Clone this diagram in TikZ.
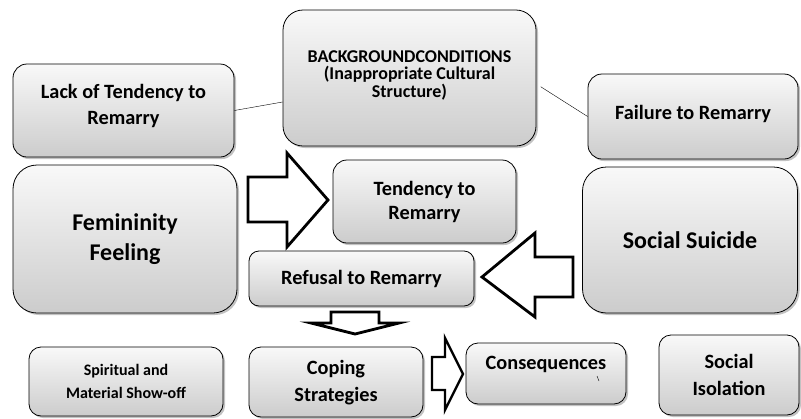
\documentclass[tikz,border=0pt]{standalone}
\usepackage{fontspec}
\setmainfont{Carlito}
\usetikzlibrary{shadows}
\tikzset{
  box/.style={draw, thick, rounded corners=14pt, top color=gray!5, bottom color=gray!40,
    drop shadow={shadow xshift=2pt,shadow yshift=-2pt,fill=gray!80,opacity=.6},
    align=center, inner sep=2pt},
  txt/.style={font=\fontsize{20.3}{26.5}\selectfont\bfseries},
  bigtxt/.style={font=\fontsize{24}{30}\selectfont\bfseries},
  smalltxt/.style={font=\fontsize{16}{23}\selectfont\bfseries},
  blockarrow/.style={draw, line width=2.8pt, fill=white, miter limit=10}
}
\begin{document}
\begin{tikzpicture}[x=1pt,y=-1pt]
\useasboundingbox (0,0) rectangle (801,418);
% boxes
\node[box,txt,minimum width=221pt,minimum height=93pt,text depth=12pt] (lack) at (123.5,110.5) {Lack of Tendency to\\Remarry};
\node[box,font=\fontsize{18}{17.5}\selectfont\bfseries,minimum width=253pt,minimum height=136pt,rounded corners=20pt,text depth=8pt] (back) at (409.5,78) {BACKGROUNDCONDITIONS\\(Inappropriate Cultural\\Structure)};
\node[box,txt,minimum width=210pt,minimum height=85pt,text depth=8pt] (fail) at (693,116.5) {Failure to Remarry};
\node[box,bigtxt,minimum width=224pt,minimum height=148pt,rounded corners=24pt] (fem) at (125,239) {Femininity\\Feeling};
\node[box,font=\fontsize{20.3}{24}\selectfont\bfseries,minimum width=183pt,minimum height=83pt] (tend) at (424.5,201.5) {Tendency to\\Remarry};
\node[box,txt,minimum width=225pt,minimum height=55pt,rounded corners=10pt] (refu) at (361.5,278.5) {Refusal to Remarry};
\node[box,bigtxt,minimum width=215pt,minimum height=146pt,rounded corners=24pt] (suic) at (690,240) {Social Suicide};
\node[box,smalltxt,minimum width=194pt,minimum height=69pt,rounded corners=12pt] (spir) at (126,381.5) {Spiritual and\\Material Show-off};
\node[box,txt,minimum width=174pt,minimum height=70pt,rounded corners=12pt,text depth=2pt] (cop) at (336,382) {Coping\\Strategies};
\node[box,txt,minimum width=160pt,minimum height=61pt,rounded corners=12pt,text depth=22pt] (cons) at (546,373.5) {Consequences};
\node[box,txt,minimum width=140pt,minimum height=80pt,rounded corners=12pt] (iso) at (729,375) {Social\\Isolation};
% lines
\draw (lack.east) -- ([yshift=-24pt]back.west);
\draw[shorten <=5pt] ([yshift=-6pt]back.east) -- (fail.west);
% block arrows
\draw[blockarrow] (248,177) -- (287,177) -- (287,153) -- (328,200) -- (287,247) -- (287,222) -- (248,222) -- cycle;
\draw[blockarrow] (573,257) -- (535,257) -- (535,233) -- (482,277) -- (535,317) -- (535,297) -- (573,297) -- cycle;
\draw[blockarrow] (331,312) -- (379,312) -- (379,323) -- (399,323) -- (355,334) -- (311,323) -- (331,323) -- cycle;
\draw[blockarrow,line width=2.4pt] (432,357) -- (445,357) -- (445,338) -- (463,374) -- (445,410) -- (445,390) -- (432,390) -- cycle;
\draw (597,376) -- (599,381);
\end{tikzpicture}
\end{document}
